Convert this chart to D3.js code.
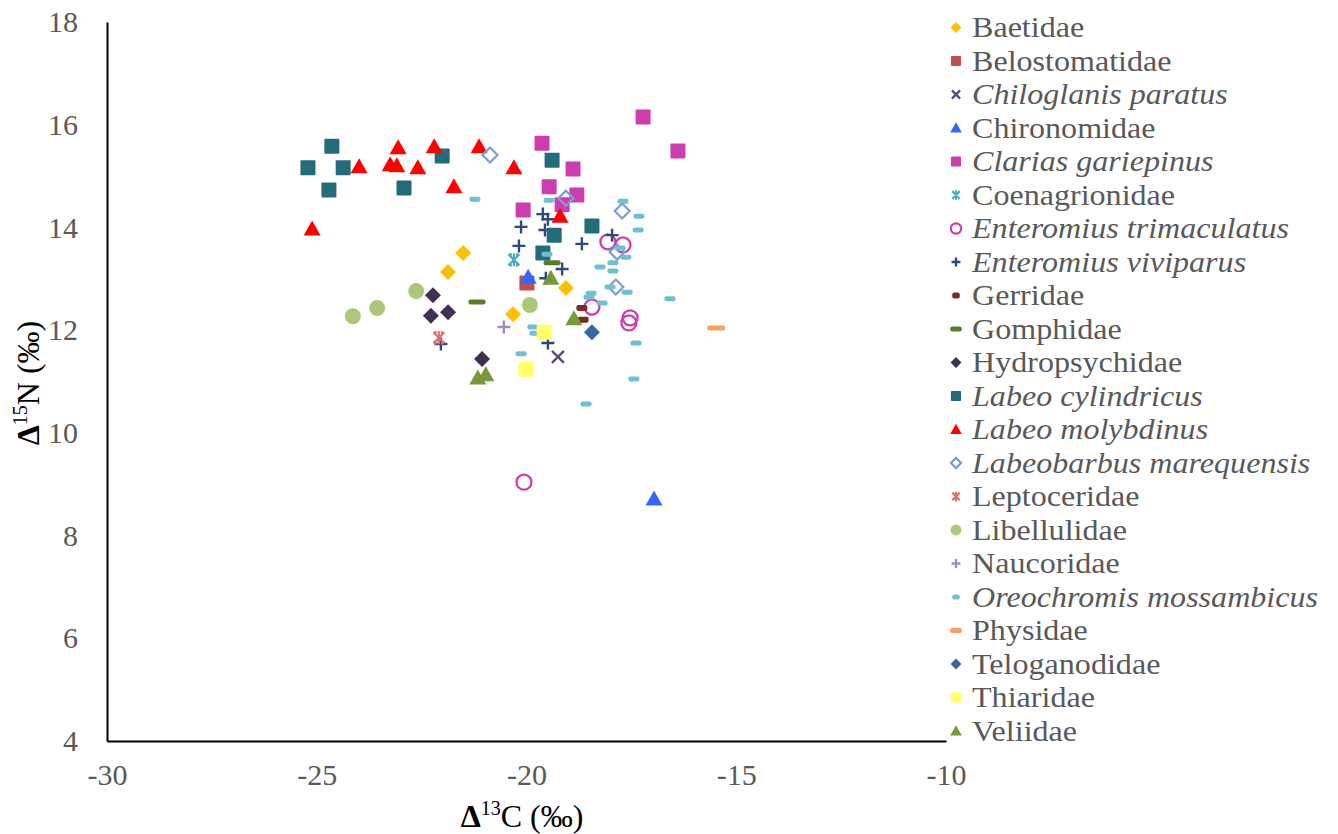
<!DOCTYPE html>
<html>
<head>
<meta charset="utf-8">
<script src="https://cdn.jsdelivr.net/npm/d3@7"></script>
<style>
  body { margin: 0; background: #fff; }
  svg { display: block; }
  text { font-family: "Liberation Serif", "Times New Roman", serif; }
</style>
</head>
<body>
<svg id="chart" width="1338" height="834"></svg>
<script>
// tick labels
const xTicks = [-30, -25, -20, -15, -10]
const yTicks = [4, 6, 8, 10, 12, 14, 16, 18]

// legend order / categories
const categories = [
  "Baetidae", "Belostomatidae", "Chiloglanis paratus", "Chironomidae",
  "Clarias gariepinus", "Coenagrionidae", "Enteromius trimaculatus",
  "Enteromius viviparus", "Gerridae", "Gomphidae", "Hydropsychidae",
  "Labeo cylindricus", "Labeo molybdinus", "Labeobarbus marequensis",
  "Leptoceridae", "Libellulidae", "Naucoridae", "Oreochromis mossambicus",
  "Physidae", "Teloganodidae", "Thiaridae", "Veliidae"
]

// [d13C, d15N] values per taxon
const baetidae = [[-21.51, 13.50], [-21.87, 13.13], [-20.32, 12.31], [-19.06, 12.82]]
const belostomatidae = [[-19.99, 12.92]]
const chiloglanis = [[-19.25, 11.48]]
const chironomidae = [[-19.96, 13.03], [-16.96, 8.71]]
const clarias = [[-17.22, 16.15], [-16.39, 15.49], [-19.63, 15.64], [-18.89, 15.14],
  [-19.46, 14.79], [-18.80, 14.63], [-19.15, 14.44], [-20.08, 14.34]]
const coenagrionidae = [[-20.30, 13.37]]
const trimaculatus = [[-18.06, 13.72], [-17.70, 13.66], [-18.44, 12.45],
  [-17.53, 12.24], [-17.56, 12.14], [-20.06, 9.04]]
const viviparus = [[-19.61, 14.26], [-19.49, 14.16], [-20.13, 14.01], [-19.56, 13.95],
  [-20.18, 13.64], [-18.68, 13.68], [-17.96, 13.85], [-19.15, 13.19],
  [-19.54, 13.01], [-19.49, 11.75], [-22.04, 11.73]]
const gerridae = [[-18.68, 12.43], [-18.65, 12.20]]
const gomphidae = [[-21.18, 12.55], [-19.39, 13.31]]
const hydropsychidae = [[-22.23, 12.68], [-22.28, 12.28], [-21.87, 12.35], [-21.06, 11.44]]
const cylindricus = [[-25.21, 15.16], [-24.64, 15.58], [-24.37, 15.16], [-24.71, 14.73],
  [-22.92, 14.77], [-22.01, 15.39], [-19.39, 15.31], [-19.34, 13.85],
  [-18.44, 14.03], [-19.61, 13.50]]
const molybdinus = [[-23.06, 15.55], [-22.20, 15.57], [-21.13, 15.57], [-23.99, 15.18],
  [-23.25, 15.22], [-23.09, 15.20], [-22.59, 15.16], [-21.73, 14.79],
  [-20.30, 15.16], [-25.11, 13.97], [-19.20, 14.22]]
const marequensis = [[-20.87, 15.41], [-19.06, 14.57], [-17.72, 14.32], [-17.84, 13.52], [-17.87, 12.84]]
const leptoceridae = [[-22.09, 11.85]]
const libellulidae = [[-24.14, 12.27], [-23.56, 12.43], [-22.63, 12.76], [-19.92, 12.49]]
const naucoridae = [[-20.54, 12.06]]
const mossambicus = [[-21.23, 14.55], [-19.46, 14.53], [-17.70, 14.51], [-17.32, 14.22],
  [-17.34, 13.95], [-17.77, 13.60], [-17.63, 13.42], [-19.51, 13.48],
  [-18.25, 13.23], [-17.94, 13.31], [-17.94, 13.15], [-16.58, 12.61],
  [-18.46, 12.72], [-18.51, 12.64], [-18.20, 12.53], [-18.01, 12.84],
  [-17.60, 12.74], [-19.85, 12.06], [-19.80, 11.94], [-20.13, 11.54],
  [-17.39, 11.75], [-17.44, 11.05], [-18.58, 10.56]]
const physidae = [[-15.48, 12.04]]
const teloganodidae = [[-18.44, 11.96]]
const thiaridae = [[-19.58, 11.96], [-20.01, 11.24]]
const veliidae = [[-21.16, 11.07], [-20.97, 11.13], [-19.42, 13.01], [-18.87, 12.22]]

const seriesData = [baetidae, belostomatidae, chiloglanis, chironomidae, clarias,
  coenagrionidae, trimaculatus, viviparus, gerridae, gomphidae, hydropsychidae,
  cylindricus, molybdinus, marequensis, leptoceridae, libellulidae, naucoridae,
  mossambicus, physidae, teloganodidae, thiaridae, veliidae]

// marker style per series (same order as categories)
const styles = [
  { m: "diamond", c: "#FFC000" },
  { m: "square", c: "#C0504D" },
  { m: "x", c: "#604A7B" },
  { m: "triangle", c: "#3366FF" },
  { m: "square", c: "#CC3EAE" },
  { m: "star", c: "#4BACC6" },
  { m: "ring", c: "#CC3EAE" },
  { m: "plus", c: "#2C4A7A" },
  { m: "dash", c: "#772C2A", w: 11, h: 6 },
  { m: "dash", c: "#5A7A2C", w: 17, h: 5 },
  { m: "diamond", c: "#403152" },
  { m: "square", c: "#246B7B" },
  { m: "triangle", c: "#FF0000" },
  { m: "openDiamond", c: "#7B9ED6" },
  { m: "star", c: "#D9716E" },
  { m: "circle", c: "#ACC77A" },
  { m: "plus", c: "#A08CC2" },
  { m: "dash", c: "#70BFD4", w: 11, h: 5 },
  { m: "dash", c: "#F9A265", w: 18, h: 5 },
  { m: "diamond", c: "#3A66A0" },
  { m: "square", c: "#FFFF66" },
  { m: "triangle", c: "#77993C" }
]
const italic = new Set(["Chiloglanis paratus", "Clarias gariepinus", "Enteromius trimaculatus",
  "Enteromius viviparus", "Labeo cylindricus", "Labeo molybdinus",
  "Labeobarbus marequensis", "Oreochromis mossambicus"])

const svg = d3.select("#chart")
const x = d3.scaleLinear().domain([-30, -10]).range([107, 946])
const y = d3.scaleLinear().domain([4, 18]).range([741, 22])

// draws one marker into group g, scaled by k
function drawMarker(g, st, k) {
  const s = k
  if (st.m === "square") {
    g.append("rect").attr("x", -7.5 * s).attr("y", -7.5 * s)
      .attr("width", 15 * s).attr("height", 15 * s).attr("rx", 1)
      .attr("fill", st.c)
  } else if (st.m === "diamond" || st.m === "openDiamond") {
    const r = (st.m === "diamond" ? 8 : 7.5) * s
    g.append("path").attr("d", `M0,${-r}L${r},0L0,${r}L${-r},0Z`)
      .attr("fill", st.m === "diamond" ? st.c : "none")
      .attr("stroke", st.m === "diamond" ? "none" : st.c)
      .attr("stroke-width", 2.2)
  } else if (st.m === "triangle") {
    const w = 8.5 * s
    g.append("path").attr("d", `M0,${-8.5 * s}L${w},${6.5 * s}L${-w},${6.5 * s}Z`)
      .attr("fill", st.c)
  } else if (st.m === "circle") {
    g.append("circle").attr("r", 8 * s).attr("fill", st.c)
  } else if (st.m === "ring") {
    g.append("circle").attr("r", 7.5 * s).attr("fill", "none")
      .attr("stroke", st.c).attr("stroke-width", 2.3)
  } else if (st.m === "plus") {
    const a = 6.5 * s
    g.append("path").attr("d", `M${-a},0H${a}M0,${-a}V${a}`)
      .attr("stroke", st.c).attr("stroke-width", 2.4).attr("fill", "none")
  } else if (st.m === "x") {
    const a = 6 * s
    g.append("path").attr("d", `M${-a},${-a}L${a},${a}M${-a},${a}L${a},${-a}`)
      .attr("stroke", st.c).attr("stroke-width", 2.4).attr("fill", "none")
  } else if (st.m === "star") {
    const a = 5.5 * s
    g.append("path")
      .attr("d", `M${-a},${-a}L${a},${a}M${-a},${a}L${a},${-a}M0,${-a - 1}V${a + 1}M${-a + 1},${-a}H${-2}M${2},${-a}H${a - 1}M${-a + 1},${a}H${-2}M${2},${a}H${a - 1}`)
      .attr("stroke", st.c).attr("stroke-width", 2.2).attr("fill", "none")
  } else if (st.m === "dash") {
    const w = st.w * s, h = st.h
    g.append("rect").attr("x", -w / 2).attr("y", -h / 2)
      .attr("width", w).attr("height", h).attr("rx", 2)
      .attr("fill", st.c)
  }
}

// axes
const yAxis = svg.append("g")
  .attr("transform", "translate(107,0)")
  .call(d3.axisLeft(y).tickValues(yTicks).tickSize(0).tickSizeOuter(0).tickPadding(29))
const xAxis = svg.append("g")
  .attr("transform", "translate(0,741)")
  .call(d3.axisBottom(x).tickValues(xTicks).tickSize(0).tickSizeOuter(0).tickPadding(23)
    .tickFormat(d3.format("d")))

for (const ax of [xAxis, yAxis]) {
  ax.select(".domain").attr("stroke", "#000").attr("stroke-width", 2)
  ax.selectAll("text")
    .style("font-family", "'Liberation Serif', 'Times New Roman', serif")
    .style("font-size", "30px")
    .attr("fill", "#595959")
}
xAxis.selectAll("text").text(d => d < 0 ? "-" + Math.abs(d) : d)

// axis titles
const xt = svg.append("text")
  .attr("x", 522).attr("y", 827).attr("text-anchor", "middle")
  .style("font-size", "32px").attr("fill", "#000")
xt.append("tspan").attr("font-weight", "bold").text("Δ")
xt.append("tspan").attr("dy", -12).style("font-size", "20px").text("13")
xt.append("tspan").attr("dy", 12).text("C (‰)")

const yt = svg.append("text")
  .attr("transform", "translate(39,383) rotate(-90)").attr("text-anchor", "middle")
  .style("font-size", "32px").attr("fill", "#000")
yt.append("tspan").attr("font-weight", "bold").text("Δ")
yt.append("tspan").attr("dy", -12).style("font-size", "20px").text("15")
yt.append("tspan").attr("dy", 12).text("N (‰)")

// points
const plot = svg.append("g")
seriesData.forEach((pts, i) => {
  plot.append("g").selectAll("g")
    .data(pts)
    .join("g")
    .attr("transform", d => `translate(${x(d[0])},${y(d[1])})`)
    .each(function () { drawMarker(d3.select(this), styles[i], 1) })
})

// legend
const legend = svg.append("g")
categories.forEach((name, i) => {
  const row = legend.append("g").attr("transform", `translate(0,${27.5 + i * 33.5})`)
  const mk = row.append("g").attr("transform", "translate(956,0)")
  drawMarker(mk, styles[i], 0.68)
  row.append("text")
    .attr("transform", "translate(972,9.5) scale(1.07,1)")
    .style("font-size", "30px")
    .style("font-style", italic.has(name) ? "italic" : "normal")
    .attr("fill", "#595959")
    .text(name)
})
</script>
</body>
</html>
